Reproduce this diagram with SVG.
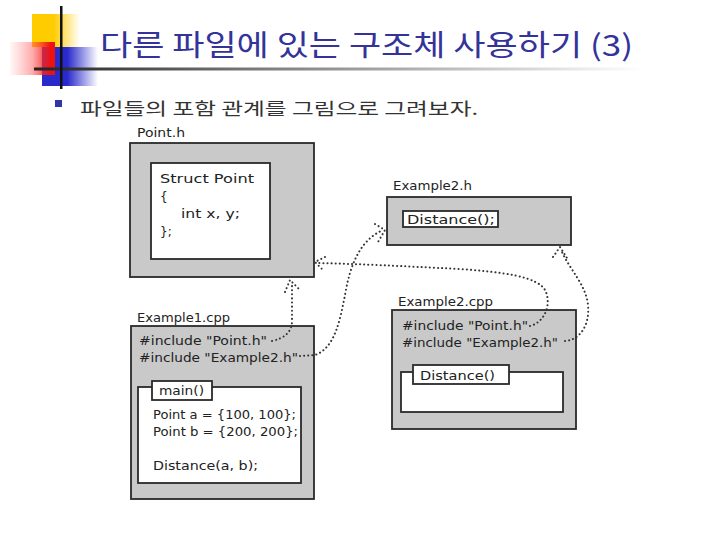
<svg xmlns="http://www.w3.org/2000/svg" width="720" height="540" viewBox="0 0 720 540">
<defs>
<linearGradient id="gY" x1="0" y1="0" x2="1" y2="0"><stop offset="0" stop-color="#FFCC00"/><stop offset="0.45" stop-color="#FFCC00"/><stop offset="1" stop-color="#FFCC00" stop-opacity="0"/></linearGradient>
<linearGradient id="gR" x1="0" y1="0" x2="1" y2="0"><stop offset="0" stop-color="#FF6666" stop-opacity="0.05"/><stop offset="0.5" stop-color="#FF4444" stop-opacity="0.45"/><stop offset="0.9" stop-color="#EE1111"/><stop offset="1" stop-color="#EE1111"/></linearGradient>
<linearGradient id="gB" x1="0" y1="0" x2="1" y2="0"><stop offset="0" stop-color="#2A2ACC"/><stop offset="0.45" stop-color="#2A2ACC"/><stop offset="1" stop-color="#2A2ACC" stop-opacity="0"/></linearGradient>
<linearGradient id="gL" x1="0" y1="0" x2="1" y2="0"><stop offset="0" stop-color="#222"/><stop offset="0.35" stop-color="#777"/><stop offset="1" stop-color="#fff"/></linearGradient>
</defs>
<style>
.outer{fill:#c9c9c9;stroke:#2a2a2a;stroke-width:1.8}
.inner{fill:#fff;stroke:#2a2a2a;stroke-width:1.8}
.code{font-family:"DejaVu Sans",sans-serif;font-size:12px;fill:#222}
.lbl{font-family:"DejaVu Sans",sans-serif;font-size:12px;fill:#222}
.dot{fill:none;stroke:#333;stroke-width:2;stroke-linecap:round;stroke-dasharray:0.1 4}
</style>
<rect width="720" height="540" fill="#fff"/>
<g id="logo">
<rect x="32" y="14" width="48" height="33" fill="url(#gY)"/>
<rect x="42" y="47" width="56" height="39" fill="url(#gB)"/>
<rect x="10" y="42" width="45" height="33" fill="url(#gR)"/>
<rect x="34" y="67.5" width="610" height="3" fill="url(#gL)"/>
<rect x="60" y="6" width="2.5" height="83" fill="#111"/>
</g>
<text x="100" y="56" font-family="'Noto Sans CJK KR',sans-serif" font-size="29" fill="#333399" textLength="533" lengthAdjust="spacingAndGlyphs">다른 파일에 있는 구조체 사용하기 (3)</text>
<rect x="55" y="100" width="7" height="7" fill="#3333AA"/>
<text x="80" y="115" font-family="'Noto Sans CJK KR',sans-serif" font-size="17" fill="#333" textLength="398" lengthAdjust="spacingAndGlyphs">파일들의 포함 관계를 그림으로 그려보자.</text>

<g id="point_h">
<text class="lbl" x="137" y="137" textLength="48" lengthAdjust="spacingAndGlyphs">Point.h</text>
<rect class="outer" x="130" y="143" width="184" height="134"/>
<rect class="inner" x="151" y="163" width="119" height="96"/>
<text class="code" x="160" y="183" textLength="94" lengthAdjust="spacingAndGlyphs">Struct Point</text>
<text class="code" x="160" y="201">{</text>
<text class="code" x="181" y="218" textLength="59" lengthAdjust="spacingAndGlyphs">int x, y;</text>
<text class="code" x="160" y="236">};</text>
</g>

<g id="example2_h">
<text class="lbl" x="393" y="190" textLength="79" lengthAdjust="spacingAndGlyphs">Example2.h</text>
<rect class="outer" x="387" y="197" width="184" height="48"/>
<rect class="inner" x="403" y="211" width="95" height="16"/>
<text class="code" x="407" y="224" textLength="88" lengthAdjust="spacingAndGlyphs">Distance();</text>
</g>

<g id="example1_cpp">
<text class="lbl" x="137" y="322" textLength="93" lengthAdjust="spacingAndGlyphs">Example1.cpp</text>
<rect class="outer" x="131" y="326" width="183" height="173"/>
<text class="code" x="139" y="345" textLength="128" lengthAdjust="spacingAndGlyphs">#include "Point.h"</text>
<text class="code" x="139" y="362" textLength="159" lengthAdjust="spacingAndGlyphs">#include "Example2.h"</text>
<rect class="inner" x="138" y="387" width="163" height="96"/>
<rect class="inner" x="152" y="381" width="60" height="19"/>
<text class="code" x="159" y="395" textLength="45" lengthAdjust="spacingAndGlyphs">main()</text>
<text class="code" x="153" y="419" textLength="143" lengthAdjust="spacingAndGlyphs">Point a = {100, 100};</text>
<text class="code" x="153" y="436" textLength="145" lengthAdjust="spacingAndGlyphs">Point b = {200, 200};</text>
<text class="code" x="153" y="470" textLength="105" lengthAdjust="spacingAndGlyphs">Distance(a, b);</text>
</g>

<g id="example2_cpp">
<text class="lbl" x="398" y="306" textLength="95" lengthAdjust="spacingAndGlyphs">Example2.cpp</text>
<rect class="outer" x="392" y="310" width="184" height="119"/>
<text class="code" x="402" y="330" textLength="126" lengthAdjust="spacingAndGlyphs">#include "Point.h"</text>
<text class="code" x="402" y="347" textLength="156" lengthAdjust="spacingAndGlyphs">#include "Example2.h"</text>
<rect class="inner" x="401" y="372" width="162" height="40"/>
<rect class="inner" x="413" y="365" width="96" height="19"/>
<text class="code" x="420" y="380" textLength="75" lengthAdjust="spacingAndGlyphs">Distance()</text>
</g>

<g id="connectors">
<path class="dot" d="M 272 341 C 285 338, 292 332, 292 320 L 292 283"/>
<path class="dot" d="M 285 292 L 290 280 L 300 290"/>
<path class="dot" d="M 300 356 L 315 355 C 335 348, 340 320, 345 295 C 350 265, 360 240, 383 230"/>
<path class="dot" d="M 375 224 L 385 230 L 378 242"/>
<path class="dot" d="M 530 326 C 545 322, 551 305, 546 292 C 540 276, 500 272, 460 269 C 400 266, 360 264, 318 263"/>
<path class="dot" d="M 325 257 L 315 262 L 322 269"/>
<path class="dot" d="M 565 341 C 580 340, 590 325, 588 305 C 586 285, 570 270, 561 250"/>
<path class="dot" d="M 553 257 L 560 247 L 567 258"/>
</g>
</svg>
